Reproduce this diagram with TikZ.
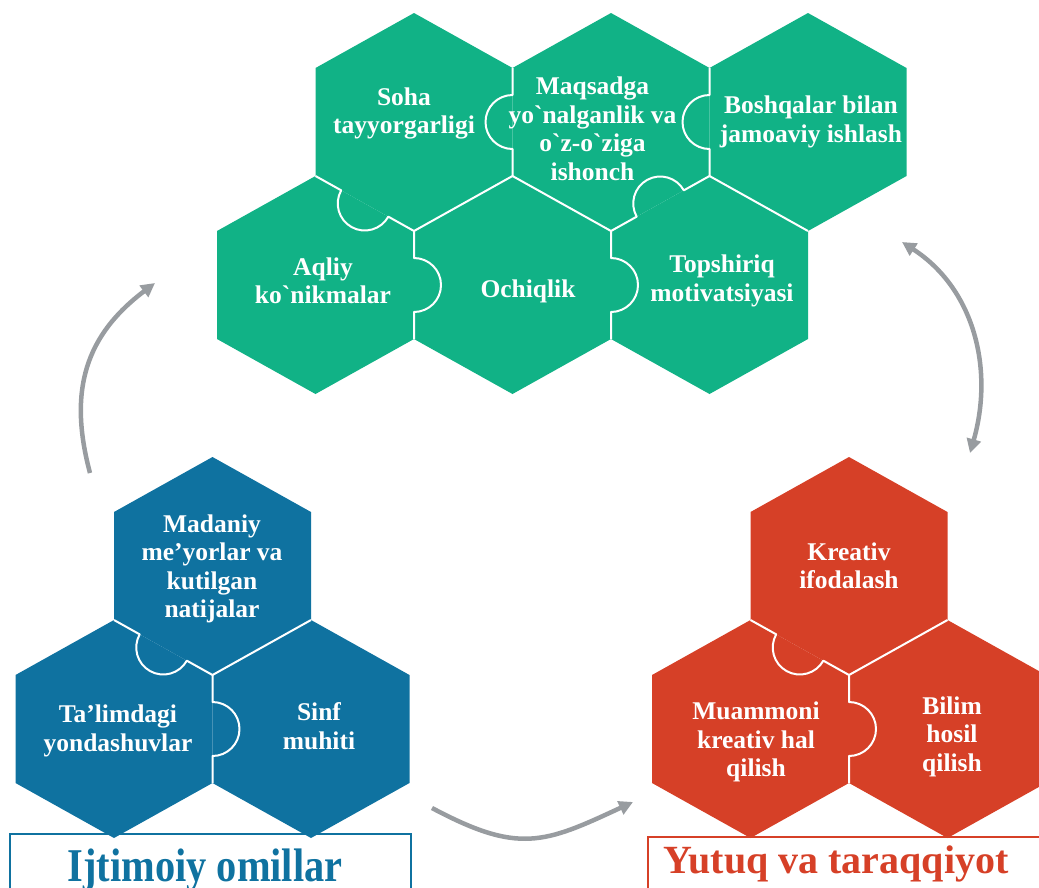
\documentclass[tikz,border=0pt]{standalone}
\usepackage{fontspec}
\usepackage{graphicx}
\setmainfont{Liberation Serif}[Ligatures=TeXOff]
\usetikzlibrary{calc,arrows.meta}
\definecolor{hgreen}{RGB}{17,178,134}
\definecolor{hblue}{RGB}{15,114,160}
\definecolor{hred}{RGB}{214,64,39}
\definecolor{agrey}{RGB}{152,156,160}
\def\hw{98.5}\def\hH{109}\def\hS{54}\def\kr{27pt}
\newcommand\mkhex[4]{%
 \coordinate (#1) at (#2,-#3);
 \coordinate (#1-t) at ($(#1)+(0,\hH)$);
 \coordinate (#1-tr) at ($(#1)+(\hw,\hS)$);
 \coordinate (#1-br) at ($(#1)+(\hw,-\hS)$);
 \coordinate (#1-b) at ($(#1)+(0,-\hH)$);
 \coordinate (#1-bl) at ($(#1)+(-\hw,-\hS)$);
 \coordinate (#1-tl) at ($(#1)+(-\hw,\hS)$);
 \fill[#4] (#1-t)--(#1-tr)--(#1-br)--(#1-b)--(#1-bl)--(#1-tl)--cycle;}
\newcommand\knobedge[3]{\draw[edgeline] let \p1=(#1),\p2=(#2),\n1={atan2(\y2-\y1,\x2-\x1)} in (#1) -- ($(#1)!0.5!(#2)!\kr!(#1)$) arc[start angle=\n1+180,delta angle=#3,radius=\kr] -- (#2);}
\newcommand\flatedge[2]{\draw[edgeline] (#1) -- (#2);}
\tikzset{
 edgeline/.style={white,line width=2pt,line join=round},
 hextext/.style={text=white,font=\bfseries\fontsize{25.5}{28.5}\selectfont,align=center,inner sep=0pt},
 flow/.style={agrey,line width=4.5pt,-{Triangle[length=14pt,width=14pt]}},
 flowboth/.style={agrey,line width=4.5pt,{Triangle[length=14pt,width=14pt]}-{Triangle[length=14pt,width=14pt]}}
}
\begin{document}
\begin{tikzpicture}[x=1pt,y=1pt]
\useasboundingbox (0,0) rectangle (1039,-887);
\clip (0,0) rectangle (1039,-887);
% label frames
\draw[hblue,line width=1.5pt] (10,-834) rectangle (411,-900);
\draw[hred,line width=1.5pt] (648,-837) rectangle (1060,-900);
% green group
\mkhex{soha}{414}{122}{hgreen}
\mkhex{maqs}{611}{122}{hgreen}
\mkhex{bosh}{808}{122}{hgreen}
\mkhex{aqli}{315.5}{285}{hgreen}
\mkhex{ochi}{512.5}{285}{hgreen}
\mkhex{tops}{709.5}{285}{hgreen}
\knobedge{soha-tr}{soha-br}{180}
\knobedge{maqs-tr}{maqs-br}{180}
\knobedge{soha-bl}{soha-b}{180}
\flatedge{soha-b}{soha-br}
\flatedge{maqs-bl}{maqs-b}
\knobedge{maqs-b}{maqs-br}{-180}
\flatedge{bosh-bl}{bosh-b}
\knobedge{aqli-tr}{aqli-br}{-180}
\knobedge{ochi-tr}{ochi-br}{-180}
% blue group
\mkhex{mada}{212.5}{566}{hblue}
\mkhex{tali}{114}{729}{hblue}
\mkhex{sinf}{311}{729}{hblue}
\knobedge{mada-bl}{mada-b}{180}
\flatedge{mada-b}{mada-br}
\knobedge{tali-tr}{tali-br}{-180}
% red group
\mkhex{krea}{849}{566}{hred}
\mkhex{muam}{750.5}{729}{hred}
\mkhex{bili}{947.5}{729}{hred}
\knobedge{krea-bl}{krea-b}{180}
\flatedge{krea-b}{krea-br}
\knobedge{muam-tr}{muam-br}{-180}
% texts
\node[hextext] (tsoha) at (404,-113.5) {Soha\\tayyorgarligi};
\node[hextext] (tmaqs) at (592.5,-129) {Maqsadga\\yo`nalganlik va\\o`z-o`ziga\\ishonch};
\node[hextext] (tbosh) at (811,-122) {Boshqalar bilan\\jamoaviy ishlash};
\node[hextext] (taqli) at (323,-281) {Aqliy\\ko`nikmalar};
\node[hextext] (tochi) at (528,-291) {Ochiqlik};
\node[hextext] (ttops) at (722,-281) {Topshiriq\\motivatsiyasi};
\node[hextext] (tmada) at (212,-569) {Madaniy\\me’yorlar va\\kutilgan\\natijalar};
\node[hextext] (ttali) at (118,-731) {Ta’limdagi\\yondashuvlar};
\node[hextext] (tsinf) at (319,-726) {Sinf\\muhiti};
\node[hextext] (tkrea) at (849,-566) {Kreativ\\ifodalash};
\node[hextext] (tmuam) at (756,-742) {Muammoni\\kreativ hal\\qilish};
\node[hextext] (tbili) at (952,-736.5) {Bilim\\hosil\\qilish};
% labels
\node[anchor=base,text=hblue,font=\bfseries\fontsize{47}{47}\selectfont,inner sep=0pt] (lblue) at (205,-881) {\scalebox{0.86}[1]{Ijtimoiy omillar}};
\node[anchor=base,text=hred,font=\bfseries\fontsize{40}{40}\selectfont,inner sep=0pt] (lred) at (836,-873) {Yutuq va taraqqiyot};
% arrows
\coordinate (a1s) at (90,-473); \coordinate (a1e) at (155,-283);
\coordinate (a2s) at (902,-242); \coordinate (a2e) at (970,-453);
\coordinate (a3s) at (432,-808); \coordinate (a3e) at (633,-802);
\draw[flow] (a1s) to[out=105,in=217,looseness=1.1] (a1e);
\draw[flowboth] (a2s) to[out=-33,in=74] (a2e);
\draw[flow] (a3s) to[out=-28,in=205,looseness=1.25] (a3e);
\end{tikzpicture}
\end{document}
